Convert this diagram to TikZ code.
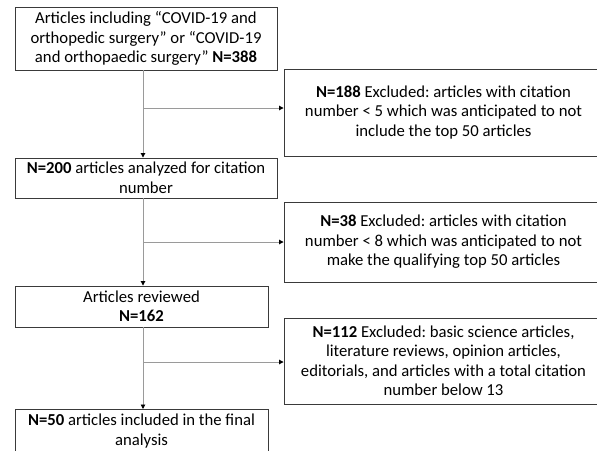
\documentclass[tikz,border=0pt]{standalone}
\usepackage{fontspec}
\setmainfont{Carlito}
\usetikzlibrary{arrows.meta}
\frenchspacing
\definecolor{boxline}{HTML}{3A3A3A}
\definecolor{connline}{HTML}{9A9A9A}
\tikzset{
  flowbox/.style={draw=boxline, line width=0.9pt, align=center, inner sep=0pt,
    font=\fontsize{16.7}{19.5}\selectfont},
  conn/.style={draw=connline, line width=0.9pt},
  connarrow/.style={conn, -{Triangle[length=4.5pt,width=4.5pt,fill=black,color=black]}}
}
\begin{document}
\begin{tikzpicture}[x=1pt,y=-1pt]
\useasboundingbox (0,0) rectangle (597,450);
\fill[white] (0,0) rectangle (597,450);
\begin{scope}
\clip (0,0) rectangle (597,450);
% left column
\node[flowbox, minimum width=262pt, minimum height=63pt] (b1) at (146,38.5)
  {Articles including “COVID-19 and\\orthopedic surgery” or “COVID-19\\and orthopaedic surgery” \textbf{N=388}};
\node[flowbox, minimum width=262pt, minimum height=40pt] (b2) at (146,178)
  {\textbf{N=200} articles analyzed for citation\\number};
\node[flowbox, minimum width=253pt, minimum height=41pt] (b3) at (141.5,306.5)
  {Articles reviewed\\\textbf{N=162}};
\node[flowbox, minimum width=253pt, minimum height=43pt, anchor=north] (b4) at (141.5,409)
  {\textbf{N=50} articles included in the final\\analysis\vphantom{g}};
% right column
\node[flowbox, minimum width=319pt, minimum height=87pt] (r1) at (443.5,112.5)
  {\textbf{N=188} Excluded: articles with citation\\number < 5 which was anticipated to not\\include the top 50 articles};
\node[flowbox, minimum width=319pt, minimum height=80pt] (r2) at (443.5,242)
  {\textbf{N=38} Excluded: articles with citation\\number < 8 which was anticipated to not\\make the qualifying top 50 articles};
\node[flowbox, minimum width=319pt, minimum height=86pt] (r3) at (443.5,361)
  {\textbf{N=112} Excluded: basic science articles,\\literature reviews, opinion articles,\\editorials, and articles with a total citation\\number below 13};
% branch points
\coordinate (k1) at (143,108);
\coordinate (k2) at (143,242);
\coordinate (k3) at (143,362);
% connectors
\draw[connarrow] (b1.south -| k1) -- (b2.north -| k1);
\draw[connarrow] (b2.south -| k2) -- (b3.north -| k2);
\draw[connarrow] (b3.south -| k3) -- (b4.north -| k3);
\draw[connarrow] (k1) -- (r1.west |- k1);
\draw[connarrow] (k2) -- (r2.west |- k2);
\draw[connarrow] (k3) -- (r3.west |- k3);
\end{scope}
\end{tikzpicture}
\end{document}
